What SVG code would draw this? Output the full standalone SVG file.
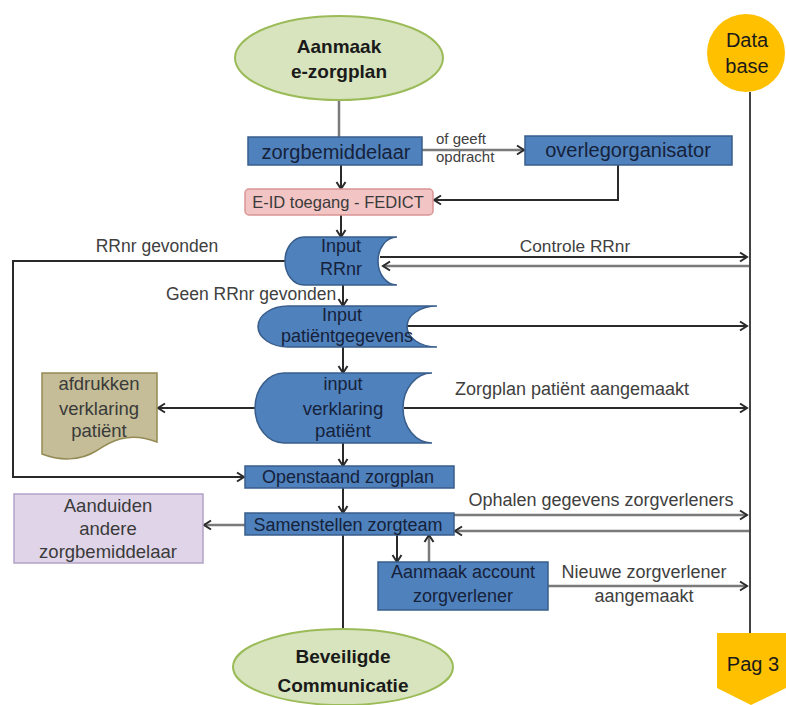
<svg xmlns="http://www.w3.org/2000/svg" width="786" height="705" viewBox="0 0 786 705">
<defs>
<style>
text{font-family:"Liberation Sans",Arial,sans-serif;}
.blue{fill:#4f81bd;stroke:#385d8a;stroke-width:1.5;}
.bt{fill:#16223a;font-size:18px;text-anchor:middle;}
.gt{fill:#3a3a3a;font-size:18.5px;text-anchor:middle;}
.kt{fill:#1a1a1a;font-size:20px;text-anchor:middle;}
.lab{fill:#404040;font-size:17.5px;}
.mid{text-anchor:middle;}
.ell{fill:#d7e4bd;stroke:#9bbb59;stroke-width:2;}
.et{fill:#1a1a1a;font-size:19px;font-weight:bold;text-anchor:middle;}
.gold{fill:#ffc000;}
.dk{fill:none;stroke:#2a2a2a;stroke-width:2;}
.gr{fill:none;stroke:#7a7a7a;stroke-width:2.5;}
.ad{marker-end:url(#ahd);}
</style>
<marker id="ahd" markerUnits="userSpaceOnUse" markerWidth="12" markerHeight="12" refX="10" refY="6" orient="auto">
<path d="M3,1.5 L10,6 L3,10.5" fill="none" stroke="#2a2a2a" stroke-width="2"/>
</marker>
</defs>
<rect width="786" height="705" fill="#ffffff"/>

<g id="connectors">
<line class="gr" x1="339" y1="100" x2="339" y2="137"/>
<line class="gr ad" x1="422" y1="150" x2="524" y2="150"/>
<line class="dk ad" x1="341" y1="165" x2="341" y2="189"/>
<polyline class="dk ad" points="618,165 618,200 434,200"/>
<line class="dk ad" x1="341" y1="215" x2="341" y2="237"/>
<polyline class="dk ad" points="285,261 13,261 13,477 244,477"/>
<line class="dk ad" x1="380" y1="257" x2="747" y2="257"/>
<line class="gr ad" x1="750" y1="266" x2="383" y2="266"/>
<line class="dk ad" x1="343" y1="285" x2="343" y2="306"/>
<line class="dk ad" x1="407" y1="326" x2="747" y2="326"/>
<line class="dk ad" x1="343" y1="347" x2="343" y2="373"/>
<line class="dk ad" x1="255" y1="408" x2="158" y2="408"/>
<line class="dk ad" x1="404" y1="408" x2="747" y2="408"/>
<line class="dk ad" x1="343" y1="443" x2="343" y2="466"/>
<line class="dk ad" x1="343" y1="488" x2="343" y2="513"/>
<line class="gr ad" x1="245" y1="525" x2="204" y2="525"/>
<line class="dk" x1="343" y1="535" x2="343" y2="629"/>
<line class="gr ad" x1="454" y1="515" x2="747" y2="515"/>
<line class="gr ad" x1="750" y1="531" x2="455" y2="531"/>
<line class="dk ad" x1="397" y1="535" x2="397" y2="562"/>
<line class="gr ad" x1="429" y1="562" x2="429" y2="535"/>
<line class="gr ad" x1="548" y1="586" x2="747" y2="586"/>
<line x1="750" y1="92" x2="750" y2="633" stroke="#444" stroke-width="2"/>
<text class="lab" x="436" y="144" style="font-size:15px">of geeft</text>
<text class="lab" x="436" y="162" style="font-size:15px">opdracht</text>
<text class="lab mid" x="575" y="252" style="font-size:17.3px">Controle RRnr</text>
<text class="lab mid" x="157" y="252">RRnr gevonden</text>
<text class="lab mid" x="251" y="300">Geen RRnr gevonden</text>
<text class="lab mid" x="572" y="395" style="font-size:18px">Zorgplan patiënt aangemaakt</text>
<text class="lab mid" x="601" y="506" style="font-size:18px">Ophalen gegevens zorgverleners</text>
<text class="lab mid" x="644" y="578" style="font-size:18px">Nieuwe zorgverlener</text>
<text class="lab mid" x="644" y="602" style="font-size:18px">aangemaakt</text>
</g>

<g id="aanmaak-ezorgplan">
<ellipse class="ell" cx="339" cy="58" rx="104" ry="42"/>
<text class="et" x="339" y="53">Aanmaak</text>
<text class="et" x="339" y="78">e-zorgplan</text>
</g>

<g id="database">
<circle class="gold" cx="746" cy="53" r="39"/>
<text class="kt" x="747" y="47">Data</text>
<text class="kt" x="747" y="73">base</text>
</g>

<g id="zorgbemiddelaar">
<rect class="blue" x="248" y="137" width="174" height="28"/>
<text class="bt" x="336" y="159" style="font-size:20px">zorgbemiddelaar</text>
</g>

<g id="overlegorganisator">
<rect class="blue" x="525" y="136" width="207" height="29"/>
<text class="bt" x="628" y="157" style="font-size:20px">overlegorganisator</text>
</g>

<g id="eid-toegang">
<rect x="245" y="189" width="188" height="26" rx="4" fill="#f2c4c4" stroke="#d99594" stroke-width="1.5"/>
<text class="bt" x="338" y="208" style="font-size:16.5px;fill:#3a3a3a">E-ID toegang - FEDICT</text>
</g>

<g id="input-rrnr">
<path class="blue" d="M304,237 L397,237 A19,24 0 0 0 397,285 L304,285 A19,24 0 0 1 304,237 Z"/>
<text class="bt" x="341" y="252">Input</text>
<text class="bt" x="341" y="275">RRnr</text>
</g>

<g id="input-patientgegevens">
<path class="blue" d="M288,306 L437,306 A30,20.5 0 0 0 437,347 L288,347 A30,20.5 0 0 1 288,306 Z"/>
<text class="bt" x="342" y="321">Input</text>
<text class="bt" x="347" y="342">patiëntgegevens</text>
</g>

<g id="input-verklaring">
<path class="blue" d="M284,373 L432,373 A29,35 0 0 0 432,443 L284,443 A29,35 0 0 1 284,373 Z"/>
<text class="bt" x="343" y="390">input</text>
<text class="bt" x="343" y="415" style="font-size:18.6px">verklaring</text>
<text class="bt" x="343" y="437" style="font-size:18.6px">patiënt</text>
</g>

<g id="afdrukken">
<path d="M42,373 H157 V442 C127,430 108,443 96,451 C80,461 60,461 42,454 Z" fill="#c4bd97" stroke="#948a54" stroke-width="1.5"/>
<text class="gt" x="99" y="390">afdrukken</text>
<text class="gt" x="99" y="415">verklaring</text>
<text class="gt" x="99" y="437">patiënt</text>
</g>

<g id="openstaand-zorgplan">
<rect class="blue" x="245" y="466" width="209" height="22"/>
<text class="bt" x="348" y="483">Openstaand zorgplan</text>
</g>

<g id="samenstellen-zorgteam">
<rect class="blue" x="245" y="513" width="209" height="22"/>
<text class="bt" x="348" y="531">Samenstellen zorgteam</text>
</g>

<g id="aanduiden">
<rect x="14" y="494" width="189" height="69" fill="#e0d5e8" stroke="#b3a2c7" stroke-width="1.5"/>
<text class="gt" x="108" y="512">Aanduiden</text>
<text class="gt" x="108" y="535">andere</text>
<text class="gt" x="108" y="558">zorgbemiddelaar</text>
</g>

<g id="aanmaak-account">
<rect class="blue" x="378" y="562" width="170" height="48"/>
<text class="bt" x="463" y="578">Aanmaak account</text>
<text class="bt" x="463" y="602">zorgverlener</text>
</g>

<g id="beveiligde-communicatie">
<ellipse class="ell" cx="343" cy="667" rx="110" ry="38"/>
<text class="et" x="343" y="663">Beveiligde</text>
<text class="et" x="343" y="692">Communicatie</text>
</g>

<g id="pag3">
<polygon class="gold" points="717,633 786,633 786,688 751,705 717,688"/>
<text class="kt" x="753" y="671">Pag 3</text>
</g>
</svg>
